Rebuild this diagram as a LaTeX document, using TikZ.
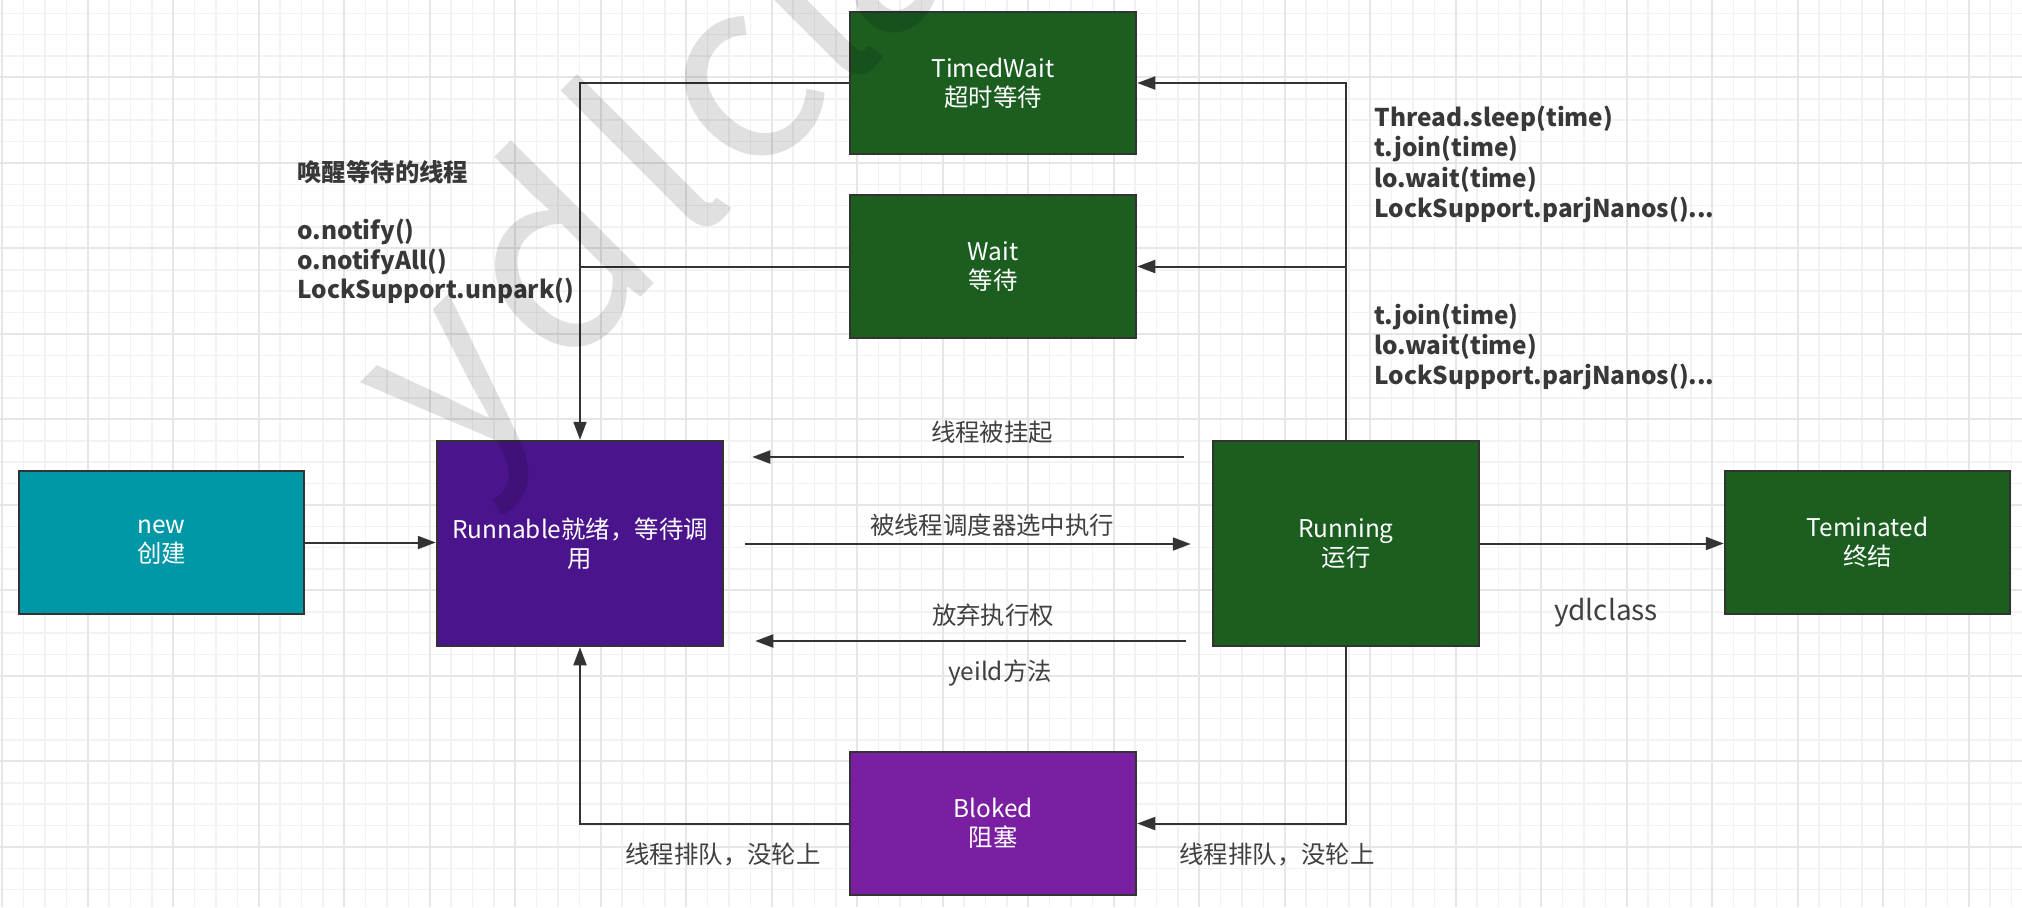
\documentclass[tikz,border=0pt]{standalone}
\usepackage{fontspec}
\setmainfont{Noto Sans CJK SC}
\usetikzlibrary{arrows.meta,calc}
\definecolor{tealc}{HTML}{0097A7}
\definecolor{runc}{HTML}{4A148C}
\definecolor{greenc}{HTML}{1B5E20}
\definecolor{blockc}{HTML}{7B1FA2}
\definecolor{linec}{HTML}{333333}
\definecolor{lblc}{HTML}{404040}
\definecolor{codec}{HTML}{383838}
\definecolor{gridminor}{HTML}{F2F2F2}
\definecolor{gridmajor}{HTML}{E6E6E6}
\newcommand\myboxfont{\fontsize{12.2pt}{14.6pt}\selectfont}
\newcommand\mylblfont{\fontsize{12.2pt}{14.6pt}\selectfont}
\newcommand\mycodefont{\fontsize{12.2pt}{14.6pt}\selectfont\bfseries}
\begin{document}
\begin{tikzpicture}[x=0.5pt,y=-0.5pt,
  box/.style={draw=linec, line width=1.25pt, text=white, align=center, inner sep=0pt, font=\myboxfont},
  conn/.style={draw=linec, line width=1pt},
  arr/.style={conn, -{Triangle[length=9pt,width=6.5pt]}},
  lbl/.style={text=lblc, font=\mylblfont, inner sep=0pt},
  code/.style={text=codec, font=\mycodefont, inner sep=0pt, anchor=west},
  gmin/.style={draw=gridminor, line width=0.75pt},
  gmaj/.style={draw=gridmajor, line width=1pt},
  wmk/.style={anchor=base, rotate=45, inner sep=0pt, text=black, text opacity=0.12, font=\fontsize{127pt}{127pt}\selectfont}]
\useasboundingbox (0,0) rectangle (2022,907);
\clip (0,0) rectangle (2022,907);
\fill[white] (0,0) rectangle (2022,907);
% grid
\foreach \i in {0,...,94} {\draw[gmin] ({2.2+21.375*\i},0) -- ({2.2+21.375*\i},907);}
\foreach \j in {0,...,42} {\draw[gmin] (0,{13.3+21.375*\j}) -- (2022,{13.3+21.375*\j});}
\foreach \i in {0,...,23} {\draw[gmaj] ({2.2+85.5*\i},0) -- ({2.2+85.5*\i},907);}
\foreach \j in {0,...,11} {\draw[gmaj] (0,{-8.1+85.5*\j}) -- (2022,{-8.1+85.5*\j});}
% boxes
\node[box, fill=tealc, minimum width=142.5pt, minimum height=71.5pt] (new) at (161.5,542.5) {new\\创建};
\node[box, fill=runc, minimum width=143pt, minimum height=102.5pt] (run) at (580,543.5) {Runnable就绪，等待调\\用};
\node[box, fill=greenc, minimum width=143pt, minimum height=71pt] (tw) at (993,83) {TimedWait\\超时等待};
\node[box, fill=greenc, minimum width=143pt, minimum height=71.5pt] (wait) at (993,266.5) {Wait\\等待};
\node[box, fill=greenc, minimum width=133pt, minimum height=102.5pt] (running) at (1346,543.5) {Running\\运行};
\node[box, fill=greenc, minimum width=142.5pt, minimum height=71.5pt] (term) at (1867.5,542.5) {Teminated\\终结};
\node[box, fill=blockc, minimum width=143pt, minimum height=71.5pt] (blk) at (993,823.5) {Bloked\\阻塞};
% connectors
\draw[arr] (new.east) -- (new.east -| run.west);
\draw[arr] (running.east) -- (running.east -| term.west);
\draw[arr] ($(run.east)+(21,0.5)$) -- ($(running.west)+(-21,0.5)$);
\draw[arr] ($(running.west)+(-28,-86.5)$) -- ($(run.east)+(28,-86.5)$);
\draw[arr] ($(running.west)+(-26,97.5)$) -- ($(run.east)+(31,97.5)$);
\draw[arr] (tw.west) -| (run.north);
\draw[conn] (wait.west) -- (wait.west -| run.north);
\draw[arr] (running.north) |- (tw.east);
\draw[arr] (running.north |- wait.east) -- (wait.east);
\draw[arr] (running.south) |- (blk.east);
\draw[arr] (blk.west) -| (run.south);
% labels
\node[lbl] (l1) at (992,432) {线程被挂起};
\node[lbl] (l2) at (992,525) {被线程调度器选中执行};
\node[lbl] (l3) at (993,615) {放弃执行权};
\node[lbl] (l4) at (1000,673) {yeild方法};
\node[lbl] (l5) at (723,855) {线程排队，没轮上};
\node[lbl] (l6) at (1277,855) {线程排队，没轮上};
\node[lbl, font=\fontsize{14pt}{16pt}\selectfont] (l7) at (1606,613) {ydlclass};
% code texts
\node[code] (c1) at (297,172) {唤醒等待的线程};
\node[code] (c2) at (297,232) {o.notify()};
\node[code] (c3) at (297,262) {o.notifyAll()};
\node[code] (c4) at (297,291) {LockSupport.unpark()};
\node[code] (r1) at (1374,119) {Thread.sleep(time)};
\node[code] (r2) at (1374,149) {t.join(time)};
\node[code] (r3) at (1374,180) {lo.wait(time)};
\node[code] (r4) at (1374,210) {LockSupport.parjNanos()...};
\node[code] (r5) at (1374,317) {t.join(time)};
\node[code] (r6) at (1374,347) {lo.wait(time)};
\node[code] (r7) at (1374,377) {LockSupport.parjNanos()...};
% watermark "ydlclass"
\node[wmk] (wm1) at (502,436) {y};
\node[wmk] (wm2) at (615,323) {d};
\node[wmk] (wm3) at (713,225) {l};
\node[wmk] (wm4) at (794,144) {c};
\node[wmk] (wm5) at (865,73) {l};
\node[wmk] (wm6) at (932,6) {a};
\node[wmk] (wm7) at (996,-58) {s};
\node[wmk] (wm8) at (1056,-118) {s};
\end{tikzpicture}
\end{document}
